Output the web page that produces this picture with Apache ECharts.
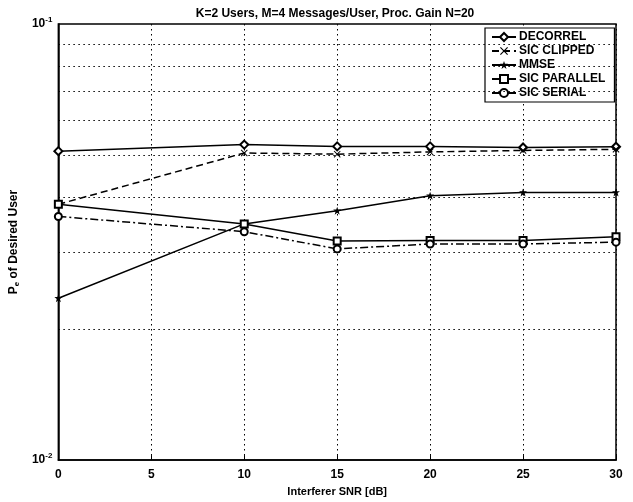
<!DOCTYPE html>
<html><head><meta charset="utf-8">
<script src="https://cdn.jsdelivr.net/npm/echarts@6/dist/echarts.min.js"></script>
<style>html,body{margin:0;padding:0;background:#fff}#c{width:633px;height:502px}</style>
</head><body><div id="c"></div>
<script>
const snr = [0, 10, 15, 20, 25, 30];
const decorrel   = [0.0511, 0.0529, 0.0524, 0.0524, 0.0521, 0.0523];
const sicClipped = [0.0386, 0.0506, 0.0503, 0.0509, 0.0513, 0.0516];
const mmse       = [0.0235, 0.0348, 0.0373, 0.0404, 0.0411, 0.0411];
const sicParallel= [0.0386, 0.0348, 0.0318, 0.0319, 0.0319, 0.0325];
const sicSerial  = [0.0362, 0.0334, 0.0305, 0.0313, 0.0313, 0.0316];
const xTicks = [0, 5, 10, 15, 20, 25, 30];
const yGridVals = [0.02, 0.03, 0.04, 0.05, 0.06, 0.07, 0.08, 0.09];

const FONT = '"Liberation Sans", Arial, sans-serif';
const pair = a => snr.map((x, i) => [x, a[i]]);
const xShape = 'path://M0,1L1,0L5,4L9,0L10,1L6,5L10,9L9,10L5,6L1,10L0,9L4,5Z';
const starShape = 'path://M5,0L6.2,3.3L10,3.3L7,5.6L8.1,9.5L5,7.2L1.9,9.5L3,5.6L0,3.3L3.8,3.3Z';
const emptyStyle = {color: '#000', borderColor: '#000', borderWidth: 1.3};

function mk(name, data, symbol, size, lineType, itemStyle) {
  return {
    name, type: 'line', data: pair(data), symbol, symbolSize: size,
    showAllSymbol: true,
    lineStyle: {color: '#000', width: 1.5, type: lineType},
    itemStyle: itemStyle || {color: '#000'},
    z: 3, animation: false
  };
}

const series = [
  mk('DECORREL', decorrel, 'emptyDiamond', 8, 'solid', emptyStyle),
  mk('SIC CLIPPED', sicClipped, xShape, 7, [7, 4]),
  mk('MMSE', mmse, starShape, 8, 'solid'),
  mk('SIC PARALLEL', sicParallel, 'emptyRect', 7, 'solid', emptyStyle),
  mk('SIC SERIAL', sicSerial, 'emptyCircle', 7, [8, 3, 2, 3], emptyStyle)
];
series[0].markLine = {
  silent: true, symbol: 'none', animation: false,
  label: {show: false},
  lineStyle: {color: '#000', width: 1, type: [1.5, 3.5]},
  data: yGridVals.map(v => ({yAxis: v}))
};

const chart = echarts.init(document.getElementById('c'), null, {renderer: 'canvas'});
chart.setOption({
  backgroundColor: '#fff',
  animation: false,
  title: {
    text: 'K=2 Users, M=4 Messages/User, Proc. Gain N=20',
    left: 330, top: 3, textAlign: 'center',
    textStyle: {fontFamily: FONT, fontSize: 12, fontWeight: 'bold', color: '#000'}
  },
  legend: {
    left: 485, top: 28, orient: 'vertical',
    itemWidth: 24, itemHeight: 10, itemGap: 2,
    padding: [3, 9, 3, 6],
    backgroundColor: '#fff', borderColor: '#000', borderWidth: 1.2,
    textStyle: {fontFamily: FONT, fontSize: 12, fontWeight: 'bold', color: '#000', padding: [0, 0, 0, -2]},
    data: ['DECORREL', 'SIC CLIPPED', 'MMSE', 'SIC PARALLEL', 'SIC SERIAL']
  },
  grid: {left: 55, right: 17, top: 24, bottom: 37, show: true, borderColor: '#000', borderWidth: 1.5, backgroundColor: 'transparent'},
  xAxis: {
    type: 'value', min: 0, max: 30, interval: 5,
    name: 'Interferer SNR [dB]', nameLocation: 'middle', nameGap: 21,
    nameTextStyle: {fontFamily: FONT, fontSize: 11, fontWeight: 'bold', color: '#000'},
    axisLine: {lineStyle: {color: '#000', width: 1.5}},
    axisTick: {inside: true, length: 5, lineStyle: {color: '#000'}},
    axisLabel: {fontFamily: FONT, fontSize: 12, fontWeight: 'bold', color: '#000', margin: 9,
      formatter: v => xTicks.includes(v) ? String(v) : ''},
    splitLine: {show: true, lineStyle: {color: '#000', width: 1, type: [1.5, 3.5]}}
  },
  yAxis: {
    type: 'log', logBase: 10, min: 0.01, max: 0.1,
    name: '{a|P}{s|e}{a| of Desired User}', nameLocation: 'middle', nameGap: 25,
    nameTextStyle: {
      rich: {
        a: {fontFamily: FONT, fontSize: 12, fontWeight: 'bold', color: '#000'},
        s: {fontFamily: FONT, fontSize: 8, fontWeight: 'bold', color: '#000', verticalAlign: 'bottom', padding: [6, 0, 0, 0]}
      }
    },
    axisLine: {lineStyle: {color: '#000', width: 1.5}},
    axisTick: {show: false},
    splitLine: {show: false},
    axisLabel: {
      margin: 6,
      formatter: v => {
        const e = Math.round(Math.log10(v));
        return '{b|10}{s|' + e + '}';
      },
      rich: {
        b: {fontFamily: FONT, fontSize: 12, fontWeight: 'bold', color: '#000'},
        s: {fontFamily: FONT, fontSize: 8, fontWeight: 'bold', color: '#000', verticalAlign: 'top', padding: [0, 0, 8, 0]}
      }
    }
  },
  series
});
</script></body></html>
